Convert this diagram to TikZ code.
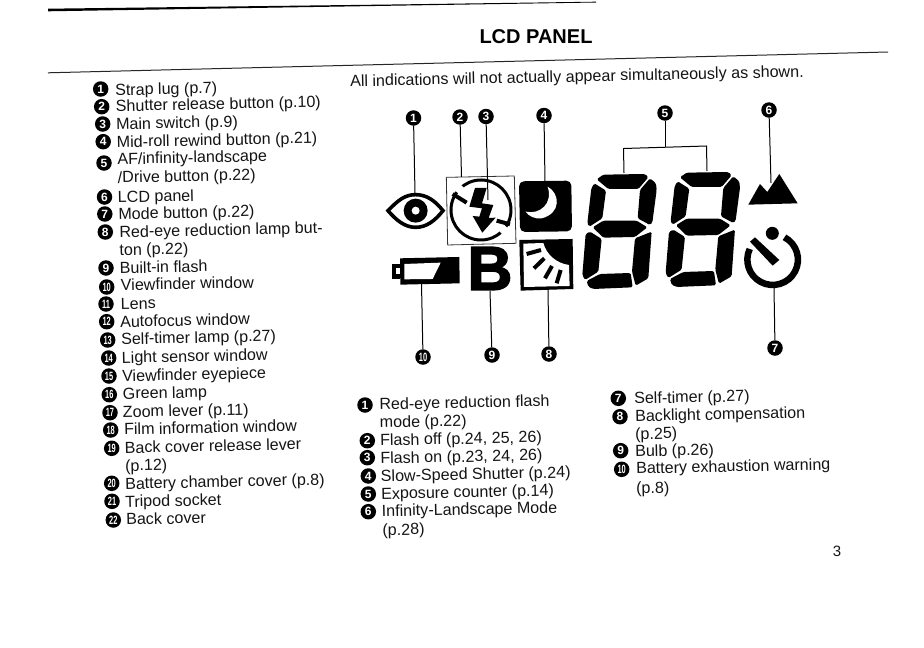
\documentclass[tikz,border=0pt]{standalone}
\usepackage{fontspec}
\usepackage{xcolor}
\setmainfont{Liberation Sans}
\newfontfamily\bulbfont[FakeBold=2.5]{Liberation Sans}
\usetikzlibrary{calc}
\definecolor{inkblack}{HTML}{141414}
\tikzset{
    numdot/.style={circle, fill=black, text=white, inner sep=0pt, minimum size=15.5pt, font=\bfseries\fontsize{12}{12}\selectfont},
    itemtext/.style={anchor=west, inner sep=0pt, yshift=-2.5pt, rotate=1.2, text=inkblack, text height=11.5pt, text depth=3.4pt, font=\fontsize{16.1}{16.1}\selectfont},
    conn/.style={line width=1pt, black},
    seg/.style={fill=black, rounded corners=1.5pt},
    zoomed/.style={x=0.3333pt, y=-0.3333pt}
}
\newcommand{\numlabel}[1]{\ifnum#1>9 \scalebox{0.62}[1]{#1}\else #1\fi}
% one seven-segment digit, points read from a 3x crop
\newcommand{\lcddigit}[2]{
    \begin{scope}[shift={(#1,#2)}, zoomed]
        \fill[seg] (80,268) -- (100,254) -- (225,252) -- (235,262) -- (205,297) -- (115,297) -- cycle;
        \fill[seg] (73,280) -- (108,302) -- (97,385) -- (58,410) -- (52,400) -- (64,295) -- cycle;
        \fill[seg] (240,265) -- (258,280) -- (260,300) -- (247,398) -- (240,405) -- (203,385) -- (210,300) -- cycle;
        \fill[seg] (68,412) -- (100,392) -- (200,392) -- (232,412) -- (195,441) -- (100,443) -- cycle;
        \fill[seg] (60,425) -- (95,447) -- (85,545) -- (45,570) -- (37,555) -- (47,432) -- cycle;
        \fill[seg] (245,425) -- (235,565) -- (197,587) -- (186,545) -- (195,445) -- cycle;
        \fill[seg] (50,573) -- (90,552) -- (182,549) -- (188,592) -- (70,597) -- (55,590) -- cycle;
    \end{scope}
}
\begin{document}
\begin{tikzpicture}[x=1pt, y=-1pt]
    \useasboundingbox (0,0) rectangle (924,648);

    % rules and title
    \fill[black] (48,8.7) -- (400,4.4) -- (596,1.7) -- (596,2.5) -- (400,5.6) -- (48,11.3) -- cycle;
    \draw[line width=1pt, black!85] (48,72.8) -- (888,52);
    \node[inner sep=0pt, text=black, font=\bfseries\fontsize{20}{20}\selectfont] (title) at (536,36.5) {LCD PANEL};
    \node[itemtext] (note) at (350,80) {All indications will not actually appear simultaneously as shown.};
    \node[inner sep=0pt, text=inkblack, font=\fontsize{15}{15}\selectfont] (pagenum) at (837,551) {3};

    % parts of the camera
    \foreach \n/\x/\y/\tx/\ty/\txt in {
        1/100.7/89/115/89/{Strap lug (p.7)},
        2/101.7/106.7/115.7/105/{Shutter release button (p.10)},
        3/102.7/124/116/123/{Main switch (p.9)},
        4/103.2/141.7/116.7/141/{Mid-roll rewind button (p.21)},
        5/104/163/117.3/158/{AF/infinity-landscape},
        6/104.5/197/117.7/196/{LCD panel},
        7/104.8/214/118.3/213/{Mode button (p.22)},
        8/105.3/232/119.3/231/{Red-eye reduction lamp but-},
        9/106/268/119.7/267/{Built-in flash},
        10/106.7/287/120.7/284/{Viewfinder window},
        11/106/304/120.7/303/{Lens},
        12/106.7/321.7/120/320.7/{Autofocus window},
        13/107.7/340/121/338/{Self-timer lamp (p.27)},
        14/108.7/358/121.7/356.7/{Light sensor window},
        15/109/376/122/375/{Viewfinder eyepiece},
        16/109.3/394.7/122.7/392.7/{Green lamp},
        17/110/412.7/122.7/411/{Zoom lever (p.11)},
        18/110.7/430/124/428.3/{Film information window},
        19/111.7/448.3/124.7/446.7/{Back cover release lever},
        20/111.7/483.3/125/482.7/{Battery chamber cover (p.8)},
        21/112/501.3/125/500.7/{Tripod socket},
        22/113.3/520/126/518.3/{Back cover}} {
        \node[numdot] (part\n) at (\x,\y) {\numlabel{\n}};
        \node[itemtext] (parttxt\n) at (\tx,\ty) {\txt};
    }
    \node[itemtext] (partcont5) at (117.7,176.5) {/Drive button (p.22)};
    \node[itemtext] (partcont8) at (119.3,249) {ton (p.22)};
    \node[itemtext] (partcont19) at (125,464.7) {(p.12)};

    % meaning of the panel marks
    \foreach \n/\x/\y/\tx/\ty/\txt in {
        1/365/405/379.3/403.3/{Red-eye reduction flash},
        2/367.3/440.7/380/439.3/{Flash off (p.24, 25, 26)},
        3/367.3/457.7/380.3/457.3/{Flash on (p.23, 24, 26)},
        4/368.3/476/380.7/475/{Slow-Speed Shutter (p.24)},
        5/368.3/494/381/492.7/{Exposure counter (p.14)},
        6/368.3/511.7/381.7/510/{Infinity-Landscape Mode},
        7/618.3/398.3/634/397.3/{Self-timer (p.27)},
        8/620/416.7/635/415/{Backlight compensation},
        9/620.7/450.7/635/450/{Bulb (p.26)},
        10/621.7/469.3/636/467.3/{Battery exhaustion warning}} {
        \node[numdot] (mark\n) at (\x,\y) {\numlabel{\n}};
        \node[itemtext] (marktxt\n) at (\tx,\ty) {\txt};
    }
    \node[itemtext] (markcont1) at (379.7,421.2) {mode (p.22)};
    \node[itemtext] (markcont6) at (382.3,529) {(p.28)};
    \node[itemtext] (markcont8) at (635,433) {(p.25)};
    \node[itemtext] (markcont10) at (636,487.3) {(p.8)};

    % panel, left half
    \begin{scope}[shift={(350,90)}, zoomed]
        % eye
        \draw[fill=white, line width=3.6pt] (114,362) .. controls (145,330) and (165,314) .. (197,314) .. controls (230,314) and (255,332) .. (279,362) .. controls (255,392) and (230,412) .. (197,412) .. controls (165,412) and (140,392) .. (114,362) -- cycle;
        \fill[black] (197,362) circle[radius=12pt];
        \fill[white] (197,362) circle[radius=4pt];
        % flash
        \draw[line width=0.8pt, black!80] (289,262) -- (493,258) -- (498,460) -- (293,465) -- cycle;
        \draw[line width=3pt] (393,360) circle[radius=30pt];
        \draw[white, line width=8pt] (342,310) -- (310,280);
        \draw[white, line width=8pt] (445,405) -- (478,435);
        \draw[line width=4pt] (308,312) -- (350,338);
        \draw[line width=4pt] (440,392) -- (480,403);
        \fill[black] (375,294) -- (410,294) -- (396,340) -- (430,345) -- (416,384) -- (437,383) -- (397,428) -- (368,378) -- (388,380) -- (396,355) -- (358,350) -- cycle;
        % moon
        \fill[black, rounded corners=5pt] (507,274) -- (664,272) -- (666,424) -- (510,426) -- cycle;
        \fill[white] (593,290) .. controls (630,310) and (635,370) .. (575,385) .. controls (555,388) and (535,378) .. (527,365) .. controls (570,375) and (610,340) .. (593,290) -- cycle;
        % backlight
        \fill[black] (508,450) -- (668,447) -- (670,597) -- (512,602) -- cycle;
        \fill[white] (520,461) -- (580,459) .. controls (590,495) and (620,520) .. (657,525) -- (659,588) -- (522,591) -- cycle;
        \draw[line width=4pt] (530,492) -- (573,480);
        \draw[line width=4pt] (552,535) -- (583,505);
        \draw[line width=4pt] (585,565) -- (606,528);
        \draw[line width=4pt] (620,580) -- (632,540);
        % battery
        \fill[black] (150,505) -- (328,501) -- (329,580) -- (151,584) -- cycle;
        \fill[black] (127,523) -- (150,523) -- (150,567) -- (127,567) -- cycle;
        \fill[white] (138,534) -- (150,534) -- (150,552) -- (138,552) -- cycle;
        \fill[white] (163,522) -- (272,518) -- (248,567) -- (163,568) -- cycle;
    \end{scope}
    \node[inner sep=0pt, font=\bulbfont\bfseries\fontsize{62}{62}\selectfont] (bulb) at (490,268.5) {B};

    % panel, right half
    \lcddigit{570}{90}
    \lcddigit{653.3}{88}
    \begin{scope}[shift={(570,90)}, zoomed]
        % mountains
        \fill[black] (535,344) -- (570,282) -- (592,306) -- (628,252) -- (683,340) -- cycle;
        % timer
        \coordinate (timerhub) at (608,509);
        \draw[line width=6.5pt] ([shift={(62:25.3pt)}]timerhub) arc[start angle=62, end angle=-205, radius=25.3pt];
        \fill[black] (607,430) circle[radius=6.5pt];
        \fill[black] (540,455) -- (555,442) -- (628,510) -- (608,527) -- cycle;
    \end{scope}

    % connector ends
    \coordinate (eyetop) at (415,193);
    \coordinate (boxtop) at (461.5,177);
    \coordinate (bolttop) at (488,200);
    \coordinate (moontop) at (545,182);
    \coordinate (bracejoint) at (665,146.5);
    \coordinate (braceleft) at (623.5,148.5);
    \coordinate (braceright) at (706.5,146);
    \coordinate (digitleft) at (624,173);
    \coordinate (digitright) at (707,171);
    \coordinate (peakside) at (771,183);
    \coordinate (timerfoot) at (774,288);
    \coordinate (lightfoot) at (548,290);
    \coordinate (bulbfoot) at (490,291);
    \coordinate (battfoot) at (421.5,284);

    % numbers on the panel
    \node[numdot] (pan1) at (413.5,118) {1};
    \node[numdot] (pan2) at (460,117) {2};
    \node[numdot] (pan3) at (486,116.5) {3};
    \node[numdot] (pan4) at (544,115.5) {4};
    \node[numdot] (pan5) at (665,113) {5};
    \node[numdot] (pan6) at (769,110) {6};
    \node[numdot] (pan7) at (775,348) {7};
    \node[numdot] (pan8) at (549,354) {8};
    \node[numdot] (pan9) at (492,355) {9};
    \node[numdot] (pan10) at (423,357) {\numlabel{10}};

    \draw[conn] (pan1) -- (eyetop);
    \draw[conn] (pan2) -- (boxtop);
    \draw[conn] (pan3) -- (bolttop);
    \draw[conn] (pan4) -- (moontop);
    \draw[conn] (pan5) -- (bracejoint);
    \draw[conn] (digitleft) -- (braceleft) -- (braceright) -- (digitright);
    \draw[conn] (pan6) -- (peakside);
    \draw[conn] (pan7) -- (timerfoot);
    \draw[conn] (pan8) -- (lightfoot);
    \draw[conn] (pan9) -- (bulbfoot);
    \draw[conn] (pan10) -- (battfoot);
\end{tikzpicture}
\end{document}
